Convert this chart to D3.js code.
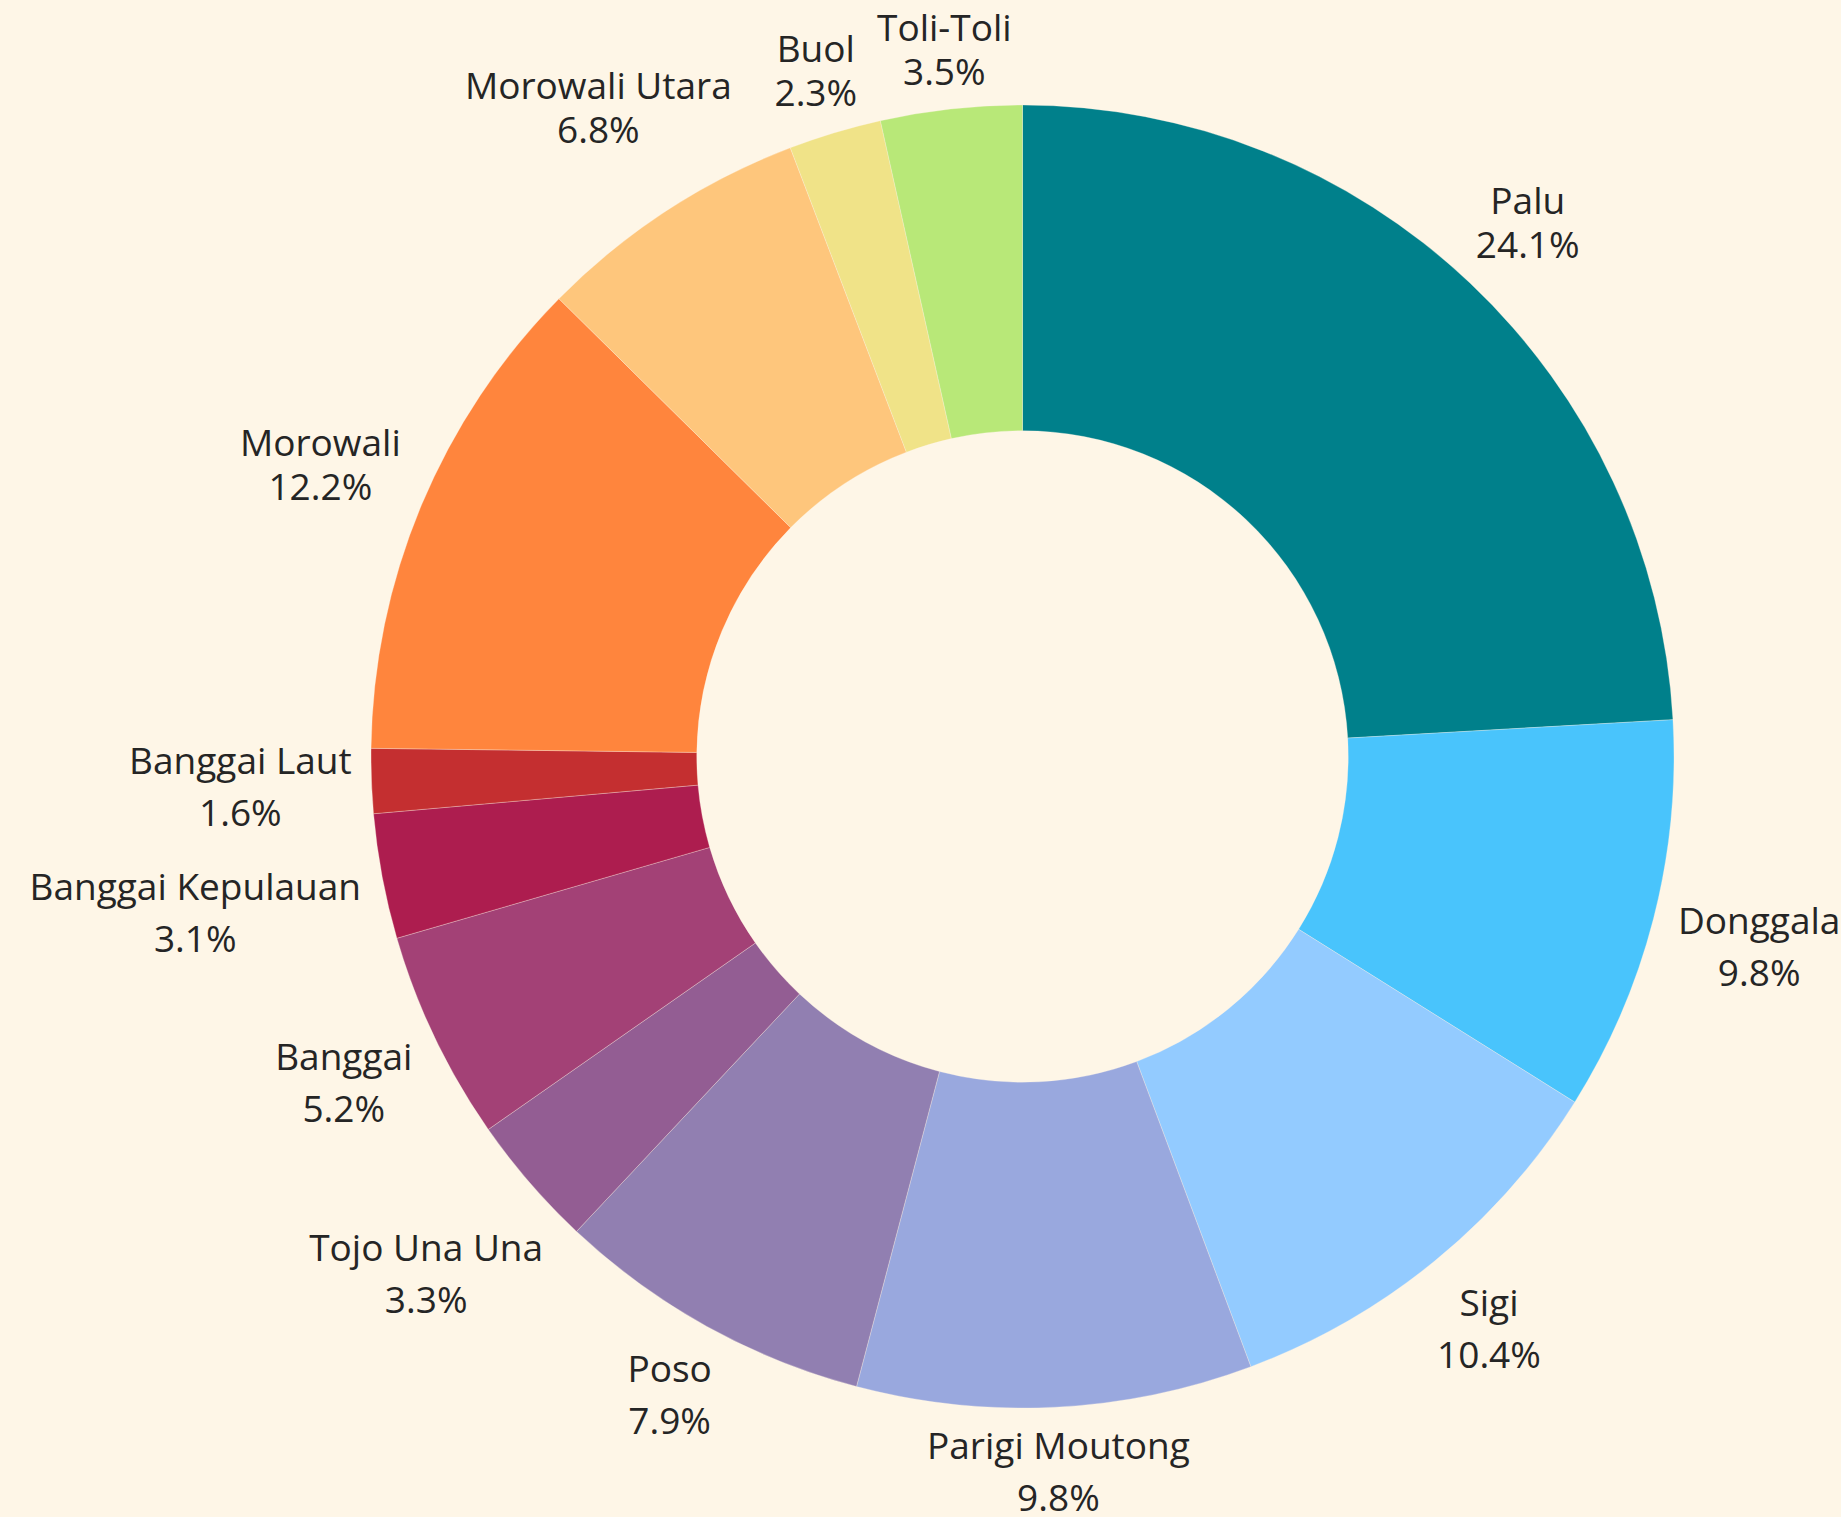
<!DOCTYPE html>
<html>
<head>
<meta charset="utf-8">
<script src="https://cdn.jsdelivr.net/npm/d3@7"></script>
<style>
  html, body { margin: 0; padding: 0; background: #fef6e7; }
  svg { display: block; }
</style>
</head>
<body>
<svg id="chart" width="1841" height="1517"></svg>
<script>
const categories = ["Palu", "Donggala", "Sigi", "Parigi Moutong", "Poso", "Tojo Una Una",
  "Banggai", "Banggai Kepulauan", "Banggai Laut", "Morowali", "Morowali Utara", "Buol", "Toli-Toli"];
const shares = [24.1, 9.8, 10.4, 9.8, 7.9, 3.3, 5.2, 3.1, 1.6, 12.2, 6.8, 2.3, 3.5];
const colors = ["#00808b", "#49c4fc", "#93cbff", "#99a8de", "#917fb1", "#935d93",
  "#a34176", "#ad1d4f", "#c42f30", "#ff853d", "#fec67c", "#f0e388", "#b8e878"];

const W = 1841, H = 1517;
const cx = 1022.5, cy = 756.5;
const outerR = 651.5, innerR = outerR * 0.5;
const fontSize = 37;

const svg = d3.select("#chart");
svg.append("rect").attr("width", W).attr("height", H).attr("fill", "#fef6e7");

const data = categories.map((c, i) => ({ name: c, value: shares[i], color: colors[i] }));
const pie = d3.pie().value(d => d.value).sort(null).startAngle(0).endAngle(2 * Math.PI);
const arc = d3.arc().innerRadius(innerR).outerRadius(outerR);
const arcs = pie(data);

const g = svg.append("g").attr("transform", `translate(${cx},${cy})`);
g.selectAll("path.slice").data(arcs).enter().append("path")
  .attr("class", "slice")
  .attr("d", arc)
  .attr("fill", d => d.data.color)
  .attr("stroke", "#fef6e7")
  .attr("stroke-opacity", 0.5)
  .attr("stroke-width", 0.6);

const midAngle = d => (d.startAngle + d.endAngle) / 2;

const labels = g.selectAll("text.lbl").data(arcs).enter().append("text")
  .attr("class", "lbl")
  .attr("font-family", "'Open Sans', 'Noto Sans', sans-serif")
  .attr("font-size", fontSize)
  .attr("fill", "#252525")
  .attr("text-anchor", "middle");
labels.append("tspan").attr("x", 0).attr("y", 0).text(d => d.data.name);
labels.append("tspan").attr("x", 0)
  .attr("y", d => (-Math.cos(midAngle(d)) < 0 ? 44 : 52))
  .text(d => d.value.toFixed(1) + "%");

labels.each(function(d) {
  const bb = this.getBBox();
  const a = midAngle(d);
  const ux = Math.sin(a), uy = -Math.cos(a);
  const gap = 5 + 13 * Math.abs(ux);
  const dist = outerR + gap + Math.abs(ux) * bb.width / 2 + Math.abs(uy) * bb.height / 2;
  const tx = ux * dist, ty = uy * dist;
  const ox = tx - (bb.x + bb.width / 2);
  const oy = ty - (bb.y + bb.height / 2);
  d3.select(this).attr("transform", `translate(${ox},${oy})`);
});
</script>
</body>
</html>
